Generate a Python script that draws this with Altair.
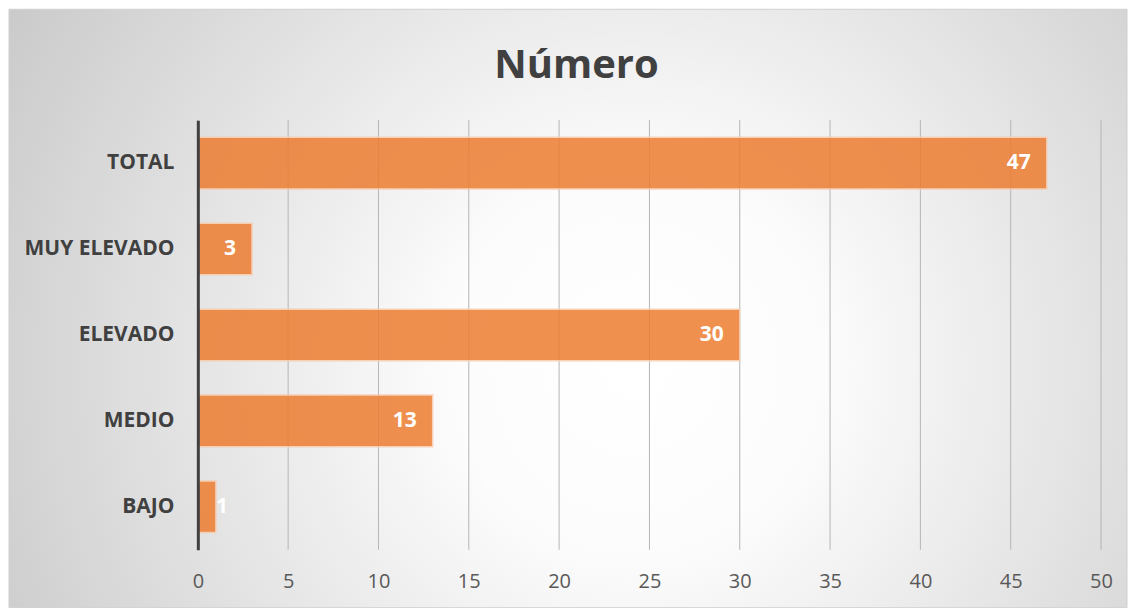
import altair as alt
import pandas as pd

categories = ["TOTAL", "MUY ELEVADO", "ELEVADO", "MEDIO", "BAJO"]
values = [47, 3, 30, 13, 1]
x_ticks = [0, 5, 10, 15, 20, 25, 30, 35, 40, 45, 50]
title_text = "Número"

df = pd.DataFrame({"cat": categories, "val": values})
ticks_df = pd.DataFrame({"t": x_ticks})

W, H = 904, 430
FONT = "Open Sans"

bg_gradient = {
    "gradient": "radial",
    "x1": 0.56, "y1": 0.55, "r1": 0.0,
    "x2": 0.56, "y2": 0.55, "r2": 0.76,
    "stops": [
        {"offset": 0.0, "color": "#ffffff"},
        {"offset": 0.22, "color": "#fcfcfc"},
        {"offset": 1.0, "color": "#bebebe"},
    ],
}

xscale = alt.Scale(domain=[0, 50], nice=False)

bg = alt.Chart(alt.Data(values=[{"k": 1}])).mark_rect(
    color=bg_gradient, stroke="#d0d0d0", strokeWidth=1
).encode(
    x=alt.value(-189), x2=alt.value(930),
    y=alt.value(-111), y2=alt.value(488),
)

title = alt.Chart(alt.Data(values=[{"k": 1}])).mark_text(
    text=title_text, font=FONT, fontSize=40, fontWeight="bold",
    color="#404040", align="center", baseline="alphabetic"
).encode(x=alt.value(379), y=alt.value(-42))

grid = alt.Chart(ticks_df).mark_rule(color="#b5b5b5", strokeWidth=1).encode(
    x=alt.X("t:Q", scale=xscale), y=alt.value(0), y2=alt.value(H)
)

yenc = alt.Y("cat:N", sort=categories, title=None,
             scale=alt.Scale(paddingInner=0.4, paddingOuter=0.2),
             axis=alt.Axis(domain=True, domainColor="#404040", domainWidth=3,
                           ticks=False, labelFont=FONT, labelFontSize=21,
                           labelFontWeight="bold", labelColor="#404040",
                           labelPadding=24, grid=False, zindex=1))

xenc = alt.X("val:Q", title=None, scale=xscale,
             axis=alt.Axis(values=x_ticks, domain=False, ticks=False,
                           grid=False, labelFont=FONT, labelFontSize=20,
                           labelColor="#595959", labelPadding=22,
                           labelFlush=False, zindex=1))

bars = alt.Chart(df).mark_bar(
    color="#ED7D31", opacity=0.85, stroke="#F8CBAD", strokeWidth=1.5
).encode(x=xenc, y=yenc)

lab_big = alt.Chart(df).transform_filter("datum.val >= 3").mark_text(
    align="right", baseline="middle", dx=-16, font=FONT, fontSize=21,
    fontWeight="bold", color="white"
).encode(x="val:Q", y=alt.Y("cat:N", sort=categories), text="val:Q")

lab_small = alt.Chart(df).transform_filter("datum.val < 3").mark_text(
    align="left", baseline="middle", dx=0, font=FONT, fontSize=21,
    fontWeight="bold", color="white"
).encode(x="val:Q", y=alt.Y("cat:N", sort=categories), text="val:Q")

chart = alt.layer(bg, grid, bars, lab_big, lab_small, title).properties(
    width=W, height=H, padding=0,
).configure_view(stroke=None).configure(background="white")

chart.save("out.html", embed_options={"renderer": "svg", "actions": False})
